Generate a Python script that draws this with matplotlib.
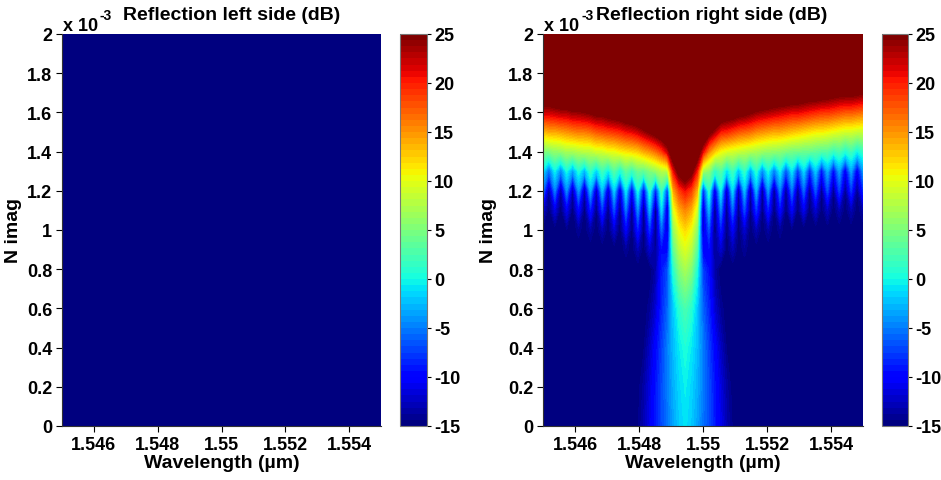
import numpy as np
import matplotlib
matplotlib.use('Agg')
import matplotlib.pyplot as plt
from matplotlib.colors import Normalize
import matplotlib.cm as cm

plt.rcParams['font.family'] = ['Liberation Sans', 'DejaVu Sans']
plt.rcParams['font.weight'] = 'bold'
plt.rcParams['axes.unicode_minus'] = False

# ---------------- data ----------------
# wavelength grid (um) of the sampled columns, 55 columns from 1.545 to 1.555
wavelength_um = np.linspace(1.545, 1.555, 55)
# N imag rows (units of 1e-3)
nimag_e3 = [0.0, 0.2, 0.4, 0.6, 0.8, 0.9, 1.0, 1.1, 1.2, 1.3, 1.4, 1.5, 1.6, 1.7, 1.8, 2.0]

# Reflection right side (dB), one list per N imag row
db_n00 = [-15]*16 + [-14.5, -13, -11, -9, -7, -5.5, -3.5, -2, -1, -2, -3.5, -5.5, -7, -9, -11, -13, -14.5] + [-15]*22
db_n02 = [-15]*16 + [-14.8, -13.5, -11.5, -9.2, -7, -5, -3, -1.5, -0.5, -1.5, -3, -5, -7, -9.2, -11.5, -13.5, -14.8] + [-15]*22
db_n04 = [-15]*16 + [-15, -14.5, -12.5, -10, -7.5, -5, -2.5, -0.7, 0.5, -0.7, -2.5, -5, -7.5, -10, -12.5, -14.5, -15] + [-15]*22
db_n06 = [-15]*16 + [-15, -15, -14, -12, -8.5, -6, -2, 1, 2.5, 1, -2, -6, -8.5, -12, -14, -15, -15] + [-15]*22
db_n08 = [-15]*17 + [-15, -15, -13.5, -9, -7, 1, 5.3, 7, 5.3, 0.5, -7.5, -9.5, -13.5, -15] + [-15]*24
db_n09 = [-15]*14 + [-14, -15, -13, -15, -12, -14, -9.5, -10, 3.5, 7.8, 9.5, 7.8, 3, -10,
                     -9.5, -14, -12, -15, -13, -15, -14] + [-15]*20
db_n10 = [-15, -15, -15, -15, -14.5, -15, -14, -15, -13.5, -15, -13, -15, -12, -15, -10.5, -15,
          -9, -15, -8, -15, -6, -12.5, 6, 10.3, 12, 10.3, 5.5, -12.5, -7, -15, -9, -15,
          -10.5, -15, -12, -15, -13, -15, -13.5, -15, -14, -15, -14.5, -15, -15, -15, -15, -15,
          -15, -15, -15, -15, -15, -15, -15]
db_n11 = [-12, -15, -11.5, -15, -11, -15, -10, -15, -9, -15, -8, -15, -7, -15, -5.5, -15,
          -4.5, -15, -3, -15, -1.5, -13, 9.5, 13.8, 15.5, 13.8, 9, -13, -3, -15, -5, -15,
          -6, -15, -7, -15, -8, -15, -9, -15, -10, -15, -10.5, -15, -11, -15, -12, -15,
          -12.5, -15, -13, -15, -13, -15, -13.5]
db_n12 = [-5.5, -14, -5, -14, -4.5, -13.5, -4, -13.5, -3, -13, -2.5, -12.5, -2, -12, -1, -11,
          0, -10.5, 1, -9, 2, -8, 14, 18.5, 20.5, 18.5, 13.5, -9, 1, -12, -0.5, -13,
          -1.5, -13.5, -2.5, -14, -3, -14.5, -4, -14.5, -5, -14.5, -5.5, -14.5, -6, -14.5, -6.5, -14.5,
          -7, -14.5, -7.5, -14.5, -8, -14.5, -8.5]
db_n13 = [-1, -6, -0.5, -5, 0, -4, 0.5, -3, 1.5, -2, 2, -1, 3, 0, 3.5, 1.5,
          4, 3.5, 5, 6, 7.5, 8, 20.5, 26.5, 29, 26, 20, 7, 5.5, 1, 3, -1.5,
          2, -2.5, 1.5, -4, 1, -5, 0, -5.5, -0.5, -7, -1, -8, -1.5, -8.5, -2, -9.5,
          -3, -10, -3.5, -11, -3.5, -11, -4]
db_n14 = [5, 5, 6, 6, 7, 7, 7.5, 8, 8, 9, 9, 10, 10, 11, 11.5, 12,
          12.5, 14, 15, 16.5, 18.5, 22, 29, 35, 35, 34, 28, 21, 15.5, 12.5, 10.5, 9.5,
          9, 8.5, 8, 7.5, 7, 6.5, 6, 6, 5.5, 5, 4.5, 4.5, 4, 4, 3.5, 3,
          3, 1.5, 2.5, 0.5, 2, -0.5, 1.5]
db_n15 = [13, 14, 14, 14.5, 15, 15.5, 16, 16, 16.5, 17.5, 18, 18.5, 19, 19.5, 20.5, 21,
          22, 23.5, 25, 26.5, 28.5, 31, 35, 35, 35, 35, 35, 30.5, 26, 23, 20, 19.5,
          18.5, 17.5, 17, 16.5, 15.5, 15, 14.5, 14, 14, 13.5, 13, 12.5, 12, 11.5, 11, 11,
          10.5, 10, 9.5, 9, 9, 8.5, 8.5]
db_n16 = [22, 22, 22.5, 23, 23, 24, 24, 24.5, 25, 26, 26, 27, 27.5, 28, 29, 30,
          30.5, 32, 33, 34.5, 35, 35, 35, 35, 35, 35, 35, 35, 34, 31.5, 29, 28,
          27.5, 26.5, 26, 25, 24, 23.5, 23, 22.5, 22, 21.5, 21, 21, 20.5, 20, 19.5, 19,
          19, 18.5, 18, 17.5, 17.5, 17, 16.5]
db_n17 = [30, 30, 30.5, 31, 31.5, 32, 32, 32.5, 33, 34, 34] + [35]*23 + \
         [34, 33, 32, 31.5, 31, 30.5, 30, 30, 29.5, 29, 28.5, 28, 28, 27.5, 27, 26.5,
          26, 26, 26, 25.5, 25]
db_n18 = [35]*55
db_n20 = [35]*55

right_rows = [db_n00, db_n02, db_n04, db_n06, db_n08, db_n09, db_n10, db_n11, db_n12,
              db_n13, db_n14, db_n15, db_n16, db_n17, db_n18, db_n20]

# Reflection left side (dB): uniform at the bottom of the colour scale
left_wavelength_um = [1.545, 1.555]
left_nimag_e3 = [0.0, 2.0]
left_db = [[-15, -15], [-15, -15]]

x_ticks = [1.546, 1.548, 1.550, 1.552, 1.554]
x_tick_labels = ['1.546', '1.548', '1.55', '1.552', '1.554']
y_ticks = [0, 0.2, 0.4, 0.6, 0.8, 1.0, 1.2, 1.4, 1.6, 1.8, 2.0]
y_tick_labels = ['0', '0.2', '0.4', '0.6', '0.8', '1', '1.2', '1.4', '1.6', '1.8', '2']
cbar_ticks = [-15, -10, -5, 0, 5, 10, 15, 20, 25]
titles = ['Reflection left side (dB)', 'Reflection right side (dB)']

# ---------------- figure ----------------
W, H = 941, 481
fig = plt.figure(figsize=(W / 100, H / 100), dpi=100)

jet64 = plt.get_cmap('jet', 64).copy()
jet64.set_over(jet64(63))
jet64.set_under(jet64(0))
vmin, vmax = -15, 25
norm = Normalize(vmin, vmax)
levels = np.linspace(vmin, vmax, 65)

def fx(px):
    return px / W

def fy(py):
    return 1 - py / H

ax_top, ax_bot = 35, 427
axes_px = [(62, 381), (543, 863)]
cbar_px = [(400, 427), (882, 908)]
title_cx = [232, 712]
ylabel_cx = [22, 497]

tick_fs = 13
label_fs = 14

for k in range(2):
    x0, x1 = axes_px[k]
    ax = fig.add_axes([fx(x0), fy(ax_bot), fx(x1 - x0), (ax_bot - ax_top) / H])
    if k == 0:
        ax.imshow(np.array(left_db), cmap=jet64, norm=norm, origin='lower', aspect='auto',
                  extent=[left_wavelength_um[0], left_wavelength_um[1],
                          left_nimag_e3[0], left_nimag_e3[1]], interpolation='nearest')
    else:
        ax.contourf(wavelength_um, nimag_e3, np.array(right_rows, dtype=float), levels=levels,
                    cmap=jet64, norm=norm, extend='both', antialiased=False)
    ax.set_xlim(1.545, 1.555)
    ax.set_ylim(0, 2.0)
    ax.set_xticks(x_ticks)
    ax.set_xticklabels(x_tick_labels)
    ax.set_yticks(y_ticks)
    ax.set_yticklabels(y_tick_labels)
    ax.tick_params(direction='out', length=4, width=0.8, labelsize=tick_fs, pad=3,
                   colors='black')
    for s in ['top', 'right']:
        ax.spines[s].set_visible(False)
    for s in ['left', 'bottom']:
        ax.spines[s].set_color('#333333')
        ax.spines[s].set_linewidth(0.8)
    ax.set_xlabel('Wavelength (\u00b5m)', fontsize=label_fs, fontweight='bold', labelpad=1)
    ax.set_ylabel('N imag', fontsize=label_fs, fontweight='bold')
    ax.yaxis.set_label_coords((ylabel_cx[k] - x0) / (x1 - x0), 0.5)
    # exponent label
    fig.text(fx(x0 + 1), fy(31), 'x 10', ha='left', va='baseline',
             fontsize=tick_fs, fontweight='bold')
    fig.text(fx(x0 + 38), fy(20), '-3', ha='left', va='baseline',
             fontsize=10, fontweight='bold')
    fig.text(fx(title_cx[k]), fy(15), titles[k], ha='center', va='center',
             fontsize=label_fs, fontweight='bold')

    c0, c1 = cbar_px[k]
    cax = fig.add_axes([fx(c0), fy(ax_bot), fx(c1 - c0), (ax_bot - ax_top) / H])
    sm = cm.ScalarMappable(norm=norm, cmap=jet64)
    cb = fig.colorbar(sm, cax=cax, ticks=cbar_ticks)
    cb.ax.set_yticklabels([str(t) for t in cbar_ticks])
    cb.ax.tick_params(direction='out', length=3, width=0.8, labelsize=tick_fs, pad=2)
    cb.outline.set_edgecolor('#777777')
    cb.outline.set_linewidth(0.8)

fig.savefig('out.png', dpi=100)
